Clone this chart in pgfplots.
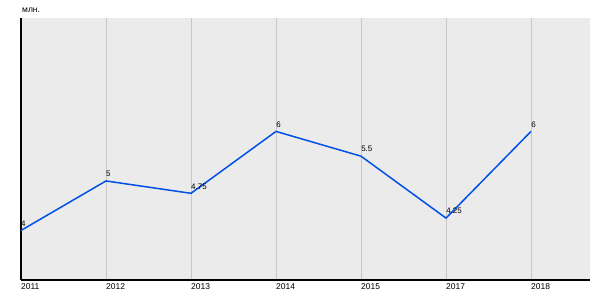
\documentclass[border=0pt]{standalone}
\usepackage{fontspec}
\setmainfont{Liberation Sans}
\usepackage{pgfplots}
\pgfplotsset{compat=1.18}
\definecolor{bgc}{RGB}{235,235,235}
\definecolor{gridc}{RGB}{200,200,200}
\definecolor{linec}{RGB}{0,80,230}
\begin{document}
\begin{tikzpicture}
\useasboundingbox (-21bp,-20bp) rectangle (579bp,280bp);
\begin{axis}[
  scale only axis,
  width=569bp, height=262bp,
  xmin=0, xmax=6.694,
  ymin=3, ymax=8.29,
  axis background/.style={fill=bgc},
  axis x line*=bottom, axis y line*=left,
  axis line style={black, line width=1.5pt, -},
  xtick={0,1,2,3,4,5,6},
  xticklabels={2011,2012,2013,2014,2015,2017,2018},
  x tick label style={anchor=north west, inner sep=1pt, yshift=-2bp, xshift=-1bp, font=\fontsize{8.5}{10}\selectfont},
  ytick=\empty,
  major tick length=0pt,
  xmajorgrids,
  grid style={gridc, line width=0.8pt},
  clip=false,
  nodes near coords,
  point meta=explicit symbolic,
  every node near coord/.append style={anchor=south west, inner sep=0.5pt, yshift=3bp, xshift=-1bp, font=\fontsize{8}{9}\selectfont, black},
]
\addplot[linec, line width=1.5pt, mark=none] coordinates {
  (0,4) [4]
  (1,5) [5]
  (2,4.75) [4.75]
  (3,6) [6]
  (4,5.5) [5.5]
  (5,4.25) [4.25]
  (6,6) [6]
};
\node[anchor=south west, inner sep=0pt, font=\fontsize{8.5}{10}\selectfont] at (rel axis cs:0,1) [yshift=5bp, xshift=1bp] {млн.};
\end{axis}
\end{tikzpicture}
\end{document}
